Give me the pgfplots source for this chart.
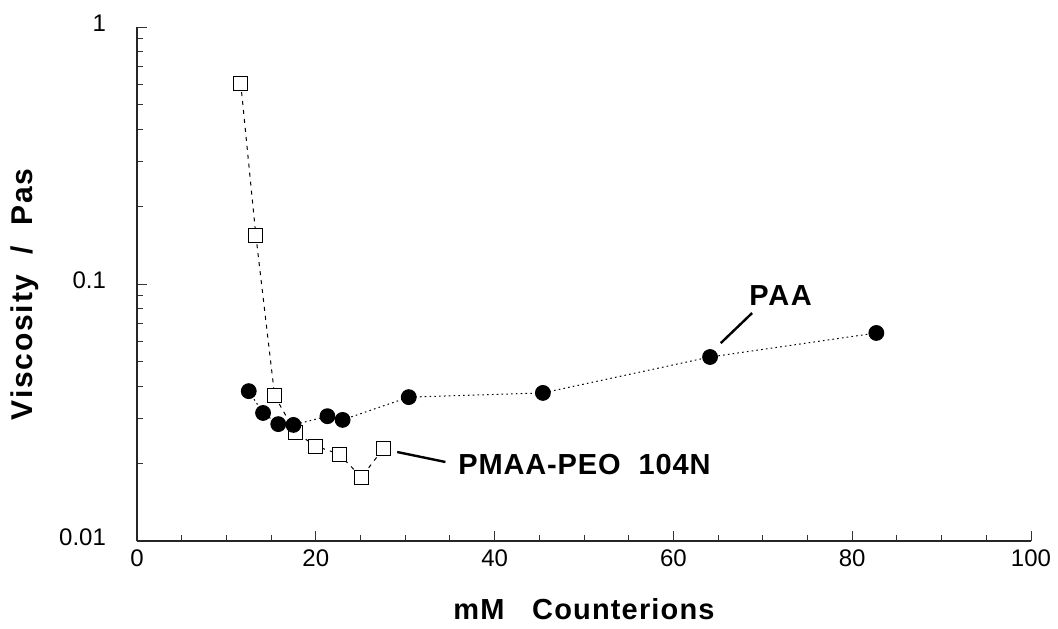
\documentclass[border=0pt]{standalone}
\usepackage{fontspec}
\setmainfont{Liberation Sans}
\newfontfamily\xlabfont[LetterSpace=4]{Liberation Sans}
\newfontfamily\ylabfont[LetterSpace=6]{Liberation Sans}
\newfontfamily\paafont[LetterSpace=6]{Liberation Sans}
\newfontfamily\pmaafont[LetterSpace=3]{Liberation Sans}
\usepackage{pgfplots}
\pgfplotsset{compat=1.18}

\begin{document}
\begin{tikzpicture}
\useasboundingbox (-68.5pt,-43.5pt) rectangle (460.5pt,270.5pt);
\begin{axis}[
    at={(0,0)}, anchor=south west,
    scale only axis,
    width=447pt, height=257pt,
    ymode=log,
    xmin=0, xmax=100,
    ymin=0.01, ymax=1,
    axis x line=bottom, axis y line=left,
    axis line style={-, line width=0.6pt, black!85},
    xtick={0,20,40,60,80,100},
    minor x tick num=3,
    ytick={0.01,0.1,1},
    yticklabels={0.01,0.1,1},
    tick align=inside,
    major tick length=5pt, minor tick length=3pt,
    tick style={black!80, line width=0.5pt},
    /pgf/number format/assume math mode=true,
    tick label style={font=\fontsize{12}{14}\selectfont},
    xticklabel style={yshift=-1pt},
    yticklabel style={xshift=-12pt, yshift=2pt},
    xlabel={\xlabfont\bfseries mM\ \ \ Counterions},
    ylabel={\ylabfont\bfseries Viscosity\ \ /\ \ Pas},
    xlabel style={font=\fontsize{14.5}{16}\selectfont, at={(axis description cs:0.5,0)}, anchor=center, yshift=-34pt},
    ylabel style={font=\fontsize{15}{17}\selectfont, at={(axis description cs:0,0.48)}, anchor=center, yshift=56pt},
    clip=false,
]
% PMAA-PEO 104N (open squares, dashed)
\addplot[black, line width=0.5pt, dash pattern=on 2pt off 2.5pt,
    mark=square*, mark size=3.5pt, mark options={solid, fill=white, draw=black, line width=0.5pt}]
coordinates {
    (11.6,0.605) (13.3,0.154) (15.4,0.0367) (17.7,0.0265)
    (20.0,0.0234) (22.6,0.0218) (25.1,0.0177) (27.6,0.0230)
};
% PAA (filled circles, dotted)
\addplot[black, line width=0.5pt, dash pattern=on 0.8pt off 1.6pt,
    mark=*, mark size=3.7pt, mark options={solid, fill=black}]
coordinates {
    (12.5,0.0383) (14.1,0.0315) (15.8,0.0285) (17.5,0.0283)
    (21.3,0.0306) (23.0,0.0296) (30.4,0.0363) (45.4,0.0377)
    (64.1,0.0520) (82.7,0.0645)
};
\draw[line width=1.2pt] (axis cs:65.3,0.0589) -- (axis cs:68.8,0.0771);
\node[font=\fontsize{14.5}{16}\selectfont\paafont\bfseries] at (axis cs:72.0,0.0898) {PAA};
\draw[line width=1.2pt] (axis cs:29.1,0.0222) -- (axis cs:34.5,0.0203);
\node[font=\fontsize{14.5}{16}\selectfont\pmaafont\bfseries, anchor=west, inner sep=0pt] at (axis cs:35.9,0.0198) {PMAA-PEO\ \ 104N};
\end{axis}
\end{tikzpicture}
\end{document}
